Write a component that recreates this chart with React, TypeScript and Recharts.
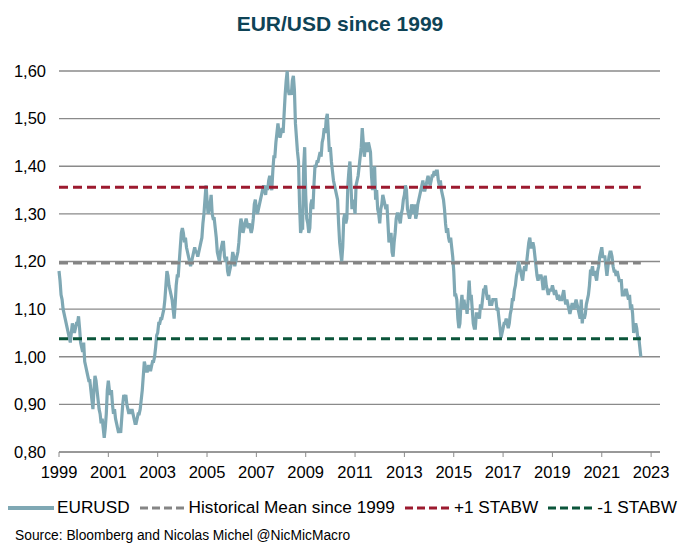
import React from "react";
import { CartesianGrid, Line, LineChart, XAxis, YAxis } from "recharts";

// EUR/USD, two points per month (mid-month, month-end)
const START_YEAR = 1999;
const EURUSD_SEMI_MONTHLY: number[][] = [
  [1.18, 1.16, 1.13, 1.12, 1.1, 1.09, 1.08, 1.07, 1.06, 1.05, 1.04, 1.03, 1.05, 1.07, 1.06, 1.05, 1.06, 1.07, 1.07, 1.085, 1.06, 1.03, 1.02, 1.01], // 1999
  [1.03, 0.99, 0.98, 0.97, 0.96, 0.95, 0.95, 0.93, 0.91, 0.89, 0.93, 0.96, 0.95, 0.93, 0.91, 0.89, 0.88, 0.86, 0.87, 0.85, 0.83, 0.85, 0.88, 0.93], // 2000
  [0.95, 0.93, 0.92, 0.93, 0.9, 0.88, 0.89, 0.87, 0.86, 0.85, 0.84, 0.85, 0.84, 0.87, 0.9, 0.92, 0.91, 0.92, 0.9, 0.89, 0.88, 0.89, 0.88, 0.89], // 2001
  [0.88, 0.87, 0.86, 0.86, 0.87, 0.88, 0.88, 0.89, 0.91, 0.93, 0.96, 0.99, 0.98, 0.97, 0.97, 0.98, 0.98, 0.97, 0.98, 0.99, 0.99, 1.0, 1.02, 1.045], // 2002
  [1.05, 1.07, 1.07, 1.08, 1.08, 1.09, 1.1, 1.12, 1.15, 1.18, 1.17, 1.15, 1.14, 1.13, 1.12, 1.1, 1.08, 1.11, 1.15, 1.17, 1.17, 1.2, 1.23, 1.26], // 2003
  [1.27, 1.26, 1.24, 1.25, 1.23, 1.22, 1.21, 1.2, 1.19, 1.2, 1.21, 1.22, 1.23, 1.22, 1.22, 1.21, 1.22, 1.23, 1.24, 1.25, 1.28, 1.3, 1.33, 1.36], // 2004
  [1.33, 1.3, 1.31, 1.32, 1.34, 1.3, 1.29, 1.29, 1.27, 1.25, 1.22, 1.21, 1.2, 1.22, 1.23, 1.24, 1.24, 1.21, 1.2, 1.21, 1.18, 1.17, 1.18, 1.19], // 2005
  [1.2, 1.22, 1.21, 1.19, 1.2, 1.21, 1.22, 1.24, 1.27, 1.29, 1.28, 1.26, 1.27, 1.28, 1.29, 1.28, 1.27, 1.28, 1.27, 1.26, 1.27, 1.29, 1.32, 1.33], // 2006
  [1.31, 1.3, 1.31, 1.32, 1.33, 1.34, 1.35, 1.36, 1.35, 1.34, 1.36, 1.35, 1.37, 1.38, 1.36, 1.35, 1.39, 1.42, 1.42, 1.45, 1.47, 1.49, 1.47, 1.46], // 2007
  [1.47, 1.48, 1.47, 1.51, 1.55, 1.58, 1.6, 1.56, 1.55, 1.56, 1.55, 1.58, 1.59, 1.56, 1.49, 1.46, 1.43, 1.41, 1.32, 1.26, 1.27, 1.27, 1.4, 1.44], // 2008
  [1.34, 1.29, 1.28, 1.26, 1.27, 1.32, 1.33, 1.31, 1.36, 1.4, 1.4, 1.41, 1.41, 1.42, 1.43, 1.42, 1.45, 1.46, 1.48, 1.47, 1.5, 1.51, 1.47, 1.43], // 2009
  [1.44, 1.41, 1.39, 1.37, 1.36, 1.35, 1.34, 1.33, 1.28, 1.24, 1.22, 1.2, 1.23, 1.29, 1.3, 1.28, 1.29, 1.36, 1.39, 1.41, 1.36, 1.31, 1.33, 1.32], // 2010
  [1.3, 1.36, 1.37, 1.38, 1.4, 1.42, 1.44, 1.48, 1.45, 1.42, 1.44, 1.45, 1.43, 1.45, 1.44, 1.43, 1.38, 1.35, 1.37, 1.4, 1.33, 1.35, 1.31, 1.3], // 2011
  [1.28, 1.31, 1.32, 1.34, 1.33, 1.32, 1.31, 1.32, 1.28, 1.24, 1.25, 1.26, 1.22, 1.21, 1.24, 1.26, 1.29, 1.3, 1.3, 1.29, 1.28, 1.3, 1.31, 1.33], // 2012
  [1.34, 1.36, 1.35, 1.31, 1.3, 1.29, 1.3, 1.32, 1.31, 1.3, 1.32, 1.29, 1.3, 1.32, 1.33, 1.34, 1.35, 1.36, 1.37, 1.35, 1.35, 1.36, 1.37, 1.38], // 2013
  [1.37, 1.36, 1.37, 1.38, 1.38, 1.39, 1.38, 1.39, 1.39, 1.37, 1.36, 1.37, 1.35, 1.34, 1.33, 1.31, 1.28, 1.26, 1.27, 1.25, 1.24, 1.25, 1.23, 1.21], // 2014
  [1.18, 1.13, 1.13, 1.12, 1.08, 1.06, 1.07, 1.11, 1.13, 1.1, 1.12, 1.1, 1.11, 1.09, 1.12, 1.16, 1.12, 1.13, 1.1, 1.07, 1.06, 1.06, 1.09, 1.09], // 2015
  [1.09, 1.08, 1.11, 1.1, 1.12, 1.14, 1.14, 1.15, 1.13, 1.12, 1.13, 1.11, 1.11, 1.11, 1.12, 1.12, 1.12, 1.12, 1.1, 1.1, 1.08, 1.06, 1.04, 1.05], // 2016
  [1.06, 1.07, 1.07, 1.08, 1.07, 1.06, 1.07, 1.09, 1.1, 1.12, 1.12, 1.14, 1.15, 1.17, 1.18, 1.2, 1.19, 1.18, 1.17, 1.16, 1.18, 1.19, 1.18, 1.2], // 2017
  [1.22, 1.24, 1.25, 1.23, 1.23, 1.24, 1.23, 1.21, 1.19, 1.17, 1.16, 1.17, 1.17, 1.17, 1.16, 1.14, 1.16, 1.17, 1.15, 1.14, 1.13, 1.14, 1.14, 1.14], // 2018
  [1.15, 1.14, 1.13, 1.14, 1.13, 1.12, 1.13, 1.12, 1.12, 1.12, 1.13, 1.14, 1.12, 1.11, 1.12, 1.11, 1.1, 1.09, 1.1, 1.11, 1.11, 1.1, 1.11, 1.12], // 2019
  [1.11, 1.1, 1.09, 1.08, 1.12, 1.07, 1.09, 1.08, 1.09, 1.11, 1.12, 1.13, 1.15, 1.18, 1.18, 1.19, 1.17, 1.18, 1.17, 1.16, 1.18, 1.19, 1.21, 1.22], // 2020
  [1.23, 1.21, 1.21, 1.21, 1.19, 1.17, 1.19, 1.21, 1.22, 1.22, 1.21, 1.19, 1.18, 1.18, 1.17, 1.18, 1.17, 1.16, 1.16, 1.16, 1.13, 1.13, 1.13, 1.14], // 2021
  [1.14, 1.13, 1.12, 1.13, 1.1, 1.11, 1.09, 1.05, 1.06, 1.07, 1.06, 1.04, 1.04, 1.02, 1.0], // 2022
];
const HIST_MEAN = 1.197;
const PLUS_ONE_SD = 1.356;
const MINUS_ONE_SD = 1.038;
const X_TICKS = [1999, 2001, 2003, 2005, 2007, 2009, 2011, 2013, 2015, 2017, 2019, 2021, 2023];
const Y_TICKS = [0.8, 0.9, 1.0, 1.1, 1.2, 1.3, 1.4, 1.5, 1.6];

const LINE_COLOR = "#7fa8b4";
const MEAN_COLOR = "#858585";
const PLUS_COLOR = "#9c1a2f";
const MINUS_COLOR = "#0b553a";
const FONT = "'Liberation Sans', Arial, sans-serif";

const data = EURUSD_SEMI_MONTHLY.flatMap((points, y) =>
  points.map((v, k) => ({
    t: START_YEAR + y + k / 24,
    eurusd: v,
    mean: HIST_MEAN,
    plus: PLUS_ONE_SD,
    minus: MINUS_ONE_SD,
  }))
);

const LEGEND_ITEMS = [
  { label: "EURUSD", color: LINE_COLOR, dash: undefined, w: 4 },
  { label: "Historical Mean since 1999", color: MEAN_COLOR, dash: "8 4", w: 3 },
  { label: "+1 STABW", color: PLUS_COLOR, dash: "8 4", w: 3 },
  { label: "-1 STABW", color: MINUS_COLOR, dash: "8 4", w: 3 },
];

function LegendRow() {
  return (
    <div
      style={{
        position: "absolute",
        left: 8,
        top: 497,
        display: "flex",
        alignItems: "center",
        fontFamily: FONT,
        fontSize: 17.2,
        color: "#000",
        whiteSpace: "nowrap",
      }}
    >
      {LEGEND_ITEMS.map((it) => (
        <span key={it.label} style={{ display: "flex", alignItems: "center", marginRight: 10 }}>
          <svg width={46} height={10} style={{ marginRight: 3 }}>
            <line x1={0} y1={5} x2={46} y2={5} stroke={it.color} strokeWidth={it.w} strokeDasharray={it.dash} />
          </svg>
          {it.label}
        </span>
      ))}
    </div>
  );
}

export default function App() {
  return (
    <div style={{ position: "absolute", left: 0, top: 0, width: 680, height: 560, background: "#fff" }}>
      <div
        style={{
          position: "absolute",
          top: 12,
          left: 0,
          width: 680,
          textAlign: "center",
          fontFamily: FONT,
          fontWeight: "bold",
          fontSize: 21,
          color: "#0e4356",
        }}
      >
        EUR/USD since 1999
      </div>
      <LineChart width={680} height={560} data={data} margin={{ top: 71, right: 20, left: 0, bottom: 78 }}>
        <CartesianGrid vertical={false} stroke="#8a8a8a" strokeWidth={1.3} />
        <XAxis
          dataKey="t"
          type="number"
          domain={[1999, 2023.36]}
          ticks={X_TICKS}
          interval={0}
          height={30}
          stroke="#8a8a8a"
          tickSize={5}
          tick={{ fontSize: 16.5, fill: "#000", fontFamily: FONT, dy: 7 }}
        />
        <YAxis
          domain={[0.8, 1.6]}
          ticks={Y_TICKS}
          width={59}
          axisLine={false}
          tickLine={false}
          tickFormatter={(v: number) => v.toFixed(2).replace(".", ",")}
          tick={{ fontSize: 16.5, fill: "#000", fontFamily: FONT, dx: -5 }}
        />
        <Line dataKey="eurusd" stroke={LINE_COLOR} strokeWidth={3.2} dot={false} isAnimationActive={false} />
        <Line dataKey="mean" stroke={MEAN_COLOR} strokeWidth={3} strokeDasharray="9 5" dot={false} isAnimationActive={false} />
        <Line dataKey="plus" stroke={PLUS_COLOR} strokeWidth={3} strokeDasharray="9 5" dot={false} isAnimationActive={false} />
        <Line dataKey="minus" stroke={MINUS_COLOR} strokeWidth={3} strokeDasharray="9 5" dot={false} isAnimationActive={false} />
      </LineChart>
      <LegendRow />
      <div style={{ position: "absolute", left: 15, top: 528, fontFamily: FONT, fontSize: 13.8, color: "#000" }}>
        Source: Bloomberg and Nicolas Michel @NicMicMacro
      </div>
    </div>
  );
}
